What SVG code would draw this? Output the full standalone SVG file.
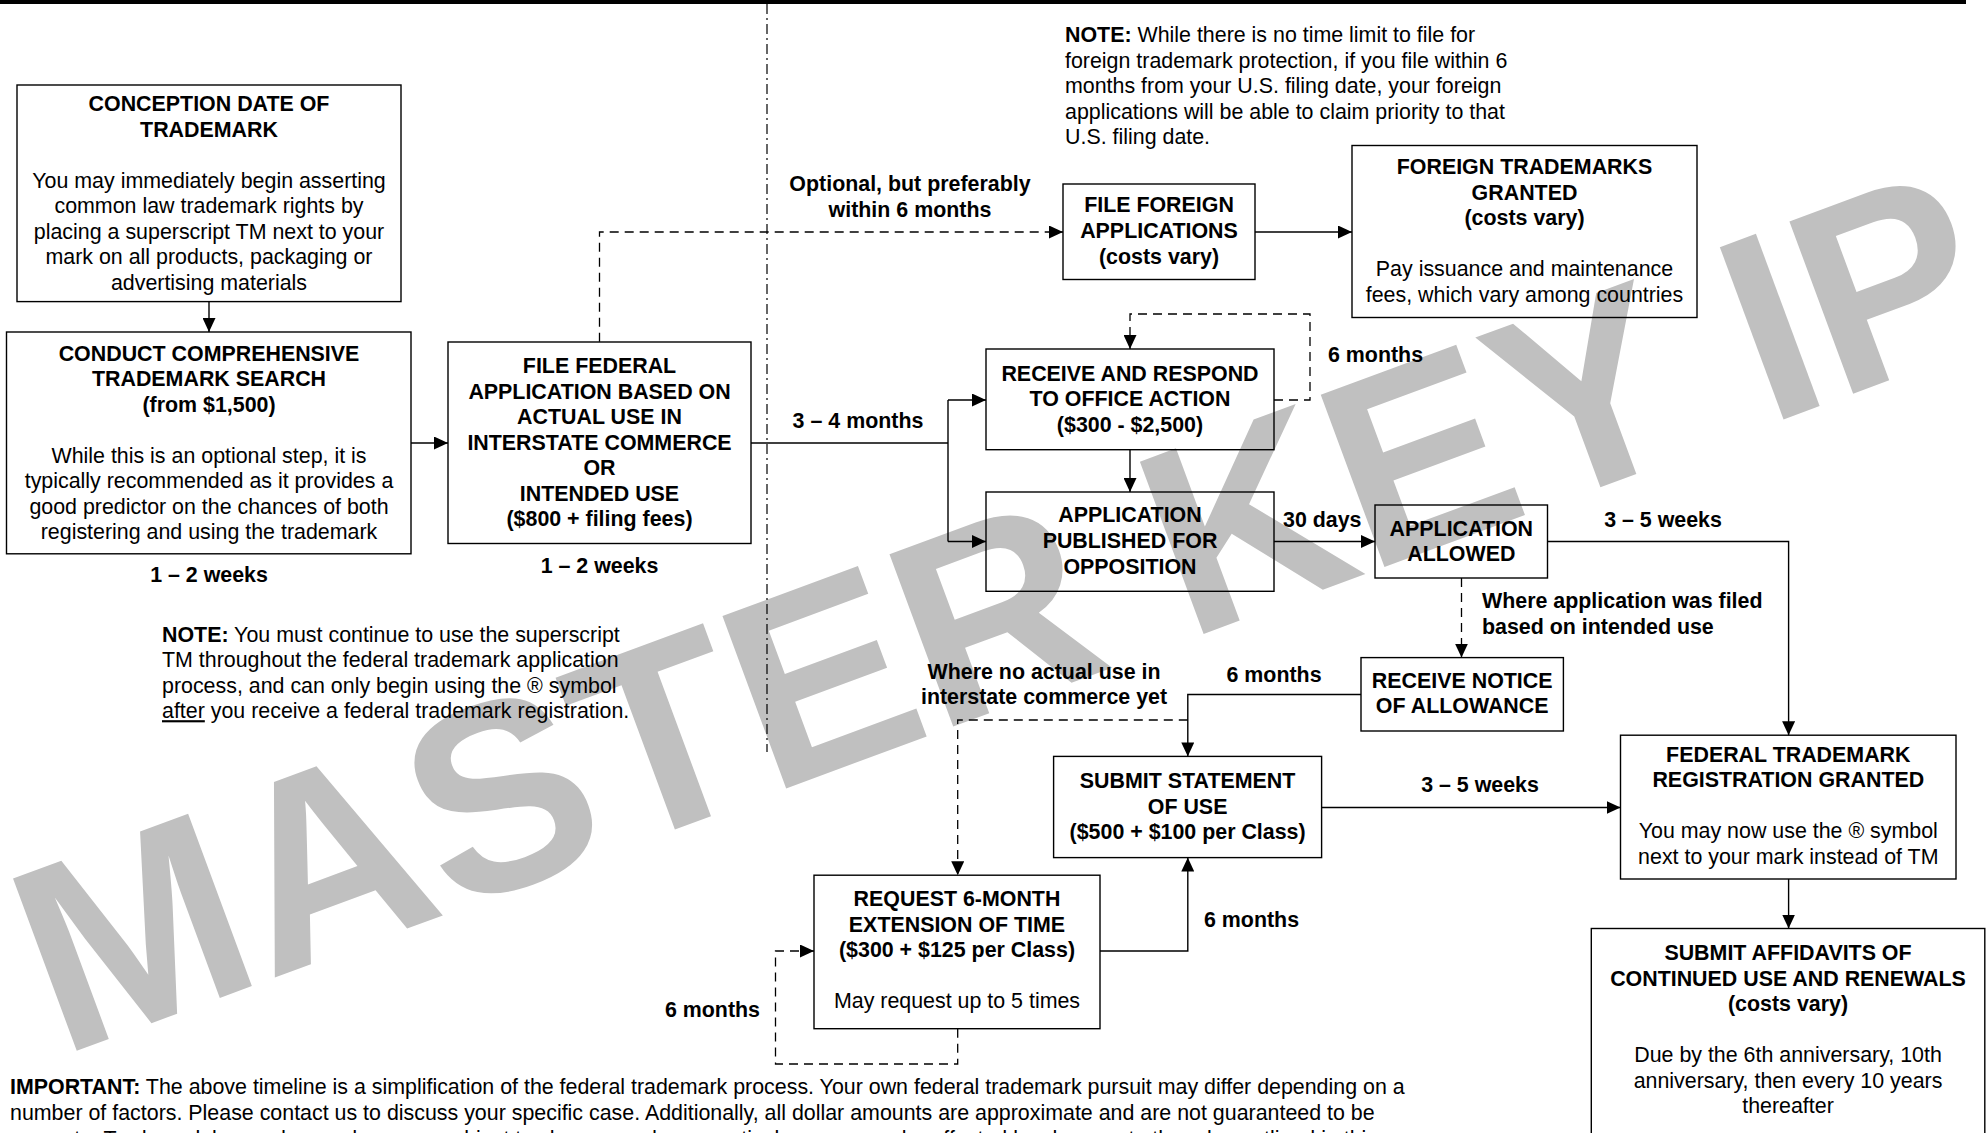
<svg xmlns="http://www.w3.org/2000/svg" width="1986" height="1133" viewBox="0 0 1986 1133">
<defs>
<style>
.t{font-family:"Liberation Sans",Arial,Helvetica,sans-serif;font-size:21.4px;fill:#000}
.b{font-weight:bold}
.c{text-anchor:middle}
.e{text-anchor:end}
.box{fill:none;stroke:#000;stroke-width:1.4}
.ln{fill:none;stroke:#000;stroke-width:1.4}
.dash{fill:none;stroke:#000;stroke-width:1.3;stroke-dasharray:9 6}
.wm{font-family:"Liberation Sans",Arial,Helvetica,sans-serif;font-size:267px;font-weight:bold;fill:#c0c0c0}
</style>
<marker id="arr" markerWidth="14" markerHeight="13" refX="14" refY="6.5" orient="auto" markerUnits="userSpaceOnUse">
<path d="M0,0 L14,6.5 L0,13 z" fill="#000"/>
</marker>
</defs>
<rect width="1986" height="1133" fill="#fff"/>
<g id="watermark">
<text class="wm" x="60" y="1057" transform="rotate(-20.3 60 1057)">MASTER KEY IP</text>
</g>
<rect x="0" y="0" width="1966" height="4" fill="#000"/>
<line x1="767" y1="4" x2="767" y2="752" stroke="#000" stroke-width="1.2" stroke-dasharray="10 4 2 4"/>
<g id="connectors">
<path class="ln" d="M209,301.6 V332" marker-end="url(#arr)"/>
<path class="ln" d="M411,443 H448" marker-end="url(#arr)"/>
<path class="dash" d="M599.5,341.8 V232 H1063" marker-end="url(#arr)"/>
<path class="ln" d="M1255,232 H1352" marker-end="url(#arr)"/>
<path class="ln" d="M751,443 H948"/>
<path class="ln" d="M948,400 V541.5"/>
<path class="ln" d="M948,400 H986" marker-end="url(#arr)"/>
<path class="ln" d="M948,541.5 H986" marker-end="url(#arr)"/>
<path class="dash" d="M1274,400 H1310 V314 H1130 V349" marker-end="url(#arr)"/>
<path class="ln" d="M1130,449.7 V492" marker-end="url(#arr)"/>
<path class="ln" d="M1274,541.5 H1375" marker-end="url(#arr)"/>
<path class="ln" d="M1547.5,541.5 H1788.6 V735.2" marker-end="url(#arr)"/>
<path class="dash" d="M1461.5,578 V657.6" marker-end="url(#arr)"/>
<path class="ln" d="M1361,694.5 H1187.8 V756.4" marker-end="url(#arr)"/>
<path class="dash" d="M1187.8,720 H957.7 V875.2" marker-end="url(#arr)"/>
<path class="ln" d="M1321.6,807.5 H1620.5" marker-end="url(#arr)"/>
<path class="ln" d="M1100,951 H1187.8 V857.6" marker-end="url(#arr)"/>
<path class="dash" d="M957.7,1028.7 V1064 H775.5 V951 H814" marker-end="url(#arr)"/>
<path class="ln" d="M1788.6,879 V928.5" marker-end="url(#arr)"/>
</g>
<g id="conception">
<rect class="box" x="17" y="85" width="384" height="216.6"/>
<text class="t b c" x="209" y="111">CONCEPTION DATE OF</text>
<text class="t b c" x="209" y="136.5">TRADEMARK</text>
<text class="t c" x="209" y="187.5">You may immediately begin asserting</text>
<text class="t c" x="209" y="213">common law trademark rights by</text>
<text class="t c" x="209" y="238.5">placing a superscript TM next to your</text>
<text class="t c" x="209" y="264">mark on all products, packaging or</text>
<text class="t c" x="209" y="289.5">advertising materials</text>
</g>
<g id="search">
<rect class="box" x="6.5" y="332" width="404.5" height="221.8"/>
<text class="t b c" x="209" y="360.5">CONDUCT COMPREHENSIVE</text>
<text class="t b c" x="209" y="386">TRADEMARK SEARCH</text>
<text class="t b c" x="209" y="411.5">(from $1,500)</text>
<text class="t c" x="209" y="462.5">While this is an optional step, it is</text>
<text class="t c" x="209" y="488">typically recommended as it provides a</text>
<text class="t c" x="209" y="513.5">good predictor on the chances of both</text>
<text class="t c" x="209" y="539">registering and using the trademark</text>
<text class="t b c" x="209" y="581.5">1 – 2 weeks</text>
</g>
<g id="federal">
<rect class="box" x="448" y="342" width="303" height="201.5"/>
<text class="t b c" x="599.5" y="373">FILE FEDERAL</text>
<text class="t b c" x="599.5" y="398.5">APPLICATION BASED ON</text>
<text class="t b c" x="599.5" y="424">ACTUAL USE IN</text>
<text class="t b c" x="599.5" y="449.5">INTERSTATE COMMERCE</text>
<text class="t b c" x="599.5" y="475">OR</text>
<text class="t b c" x="599.5" y="500.5">INTENDED USE</text>
<text class="t b c" x="599.5" y="526">($800 + filing fees)</text>
<text class="t b c" x="599.5" y="573">1 – 2 weeks</text>
</g>
<g id="note-foreign">
<text class="t" x="1065" y="42"><tspan class="b">NOTE:</tspan> While there is no time limit to file for</text>
<text class="t" x="1065" y="67.5">foreign trademark protection, if you file within 6</text>
<text class="t" x="1065" y="93">months from your U.S. filing date, your foreign</text>
<text class="t" x="1065" y="118.5">applications will be able to claim priority to that</text>
<text class="t" x="1065" y="144">U.S. filing date.</text>
</g>
<g id="file-foreign">
<rect class="box" x="1063" y="184" width="192" height="95.5"/>
<text class="t b c" x="1159" y="212.4">FILE FOREIGN</text>
<text class="t b c" x="1159" y="238">APPLICATIONS</text>
<text class="t b c" x="1159" y="263.5">(costs vary)</text>
</g>
<g id="foreign-granted">
<rect class="box" x="1352" y="145.5" width="345" height="172"/>
<text class="t b c" x="1524.5" y="174">FOREIGN TRADEMARKS</text>
<text class="t b c" x="1524.5" y="199.5">GRANTED</text>
<text class="t b c" x="1524.5" y="225">(costs vary)</text>
<text class="t c" x="1524.5" y="276">Pay issuance and maintenance</text>
<text class="t c" x="1524.5" y="301.5">fees, which vary among countries</text>
</g>
<g id="office-action">
<rect class="box" x="986" y="349" width="288" height="100.7"/>
<text class="t b c" x="1130" y="380.8">RECEIVE AND RESPOND</text>
<text class="t b c" x="1130" y="406.3">TO OFFICE ACTION</text>
<text class="t b c" x="1130" y="431.8">($300 - $2,500)</text>
</g>
<g id="published">
<rect class="box" x="986" y="492" width="288" height="99.3"/>
<text class="t b c" x="1130" y="522.4">APPLICATION</text>
<text class="t b c" x="1130" y="548">PUBLISHED FOR</text>
<text class="t b c" x="1130" y="573.5">OPPOSITION</text>
</g>
<g id="allowed">
<rect class="box" x="1375" y="505" width="172.5" height="73"/>
<text class="t b c" x="1461.3" y="535.8">APPLICATION</text>
<text class="t b c" x="1461.3" y="561.3">ALLOWED</text>
</g>
<g id="notice">
<rect class="box" x="1361" y="657.6" width="202.4" height="73.4"/>
<text class="t b c" x="1462.2" y="687.6">RECEIVE NOTICE</text>
<text class="t b c" x="1462.2" y="713.1">OF ALLOWANCE</text>
</g>
<g id="statement">
<rect class="box" x="1053.6" y="756.4" width="268" height="101.2"/>
<text class="t b c" x="1187.6" y="788">SUBMIT STATEMENT</text>
<text class="t b c" x="1187.6" y="813.5">OF USE</text>
<text class="t b c" x="1187.6" y="839">($500 + $100 per Class)</text>
</g>
<g id="extension">
<rect class="box" x="814" y="875.2" width="286" height="153.5"/>
<text class="t b c" x="957" y="906.3">REQUEST 6-MONTH</text>
<text class="t b c" x="957" y="931.8">EXTENSION OF TIME</text>
<text class="t b c" x="957" y="957.3">($300 + $125 per Class)</text>
<text class="t c" x="957" y="1008.3">May request up to 5 times</text>
</g>
<g id="registration">
<rect class="box" x="1620.5" y="735.2" width="335.5" height="143.8"/>
<text class="t b c" x="1788.3" y="761.7">FEDERAL TRADEMARK</text>
<text class="t b c" x="1788.3" y="787.2">REGISTRATION GRANTED</text>
<text class="t c" x="1788.3" y="838.2">You may now use the ® symbol</text>
<text class="t c" x="1788.3" y="863.7">next to your mark instead of TM</text>
</g>
<g id="affidavits">
<rect class="box" x="1591.3" y="928.5" width="393.5" height="215"/>
<text class="t b c" x="1788" y="960.2">SUBMIT AFFIDAVITS OF</text>
<text class="t b c" x="1788" y="985.7">CONTINUED USE AND RENEWALS</text>
<text class="t b c" x="1788" y="1011.2">(costs vary)</text>
<text class="t c" x="1788" y="1062.2">Due by the 6th anniversary, 10th</text>
<text class="t c" x="1788" y="1087.7">anniversary, then every 10 years</text>
<text class="t c" x="1788" y="1113.2">thereafter</text>
</g>
<g id="labels">
<text class="t b c" x="910" y="191">Optional, but preferably</text>
<text class="t b c" x="910" y="216.5">within 6 months</text>
<text class="t b" x="1328" y="361.6">6 months</text>
<text class="t b c" x="858" y="428">3 – 4 months</text>
<text class="t b" x="1283" y="527.4">30 days</text>
<text class="t b c" x="1663" y="527.4">3 – 5 weeks</text>
<text class="t b" x="1482" y="608.2">Where application was filed</text>
<text class="t b" x="1482" y="633.7">based on intended use</text>
<text class="t b c" x="1274" y="682.3">6 months</text>
<text class="t b c" x="1044" y="678.8">Where no actual use in</text>
<text class="t b c" x="1044" y="704.3">interstate commerce yet</text>
<text class="t b c" x="1480" y="791.6">3 – 5 weeks</text>
<text class="t b" x="1204" y="927.4">6 months</text>
<text class="t b e" x="760" y="1017">6 months</text>
</g>
<g id="note-tm">
<text class="t" x="162" y="641.7"><tspan class="b">NOTE:</tspan> You must continue to use the superscript</text>
<text class="t" x="162" y="667.2">TM throughout the federal trademark application</text>
<text class="t" x="162" y="692.7">process, and can only begin using the ® symbol</text>
<text class="t" x="162" y="718.2"><tspan text-decoration="underline">after</tspan> you receive a federal trademark registration.</text>
</g>
<g id="important">
<text class="t" x="10" y="1093.5"><tspan class="b">IMPORTANT:</tspan> The above timeline is a simplification of the federal trademark process. Your own federal trademark pursuit may differ depending on a</text>
<text class="t" x="10" y="1119.5">number of factors. Please contact us to discuss your specific case. Additionally, all dollar amounts are approximate and are not guaranteed to be</text>
<text class="t" x="10" y="1145.5">accurate. Trademark law and procedures are subject to change, and your particular case may be affected by changes to the rules outlined in this</text>
</g>
</svg>
